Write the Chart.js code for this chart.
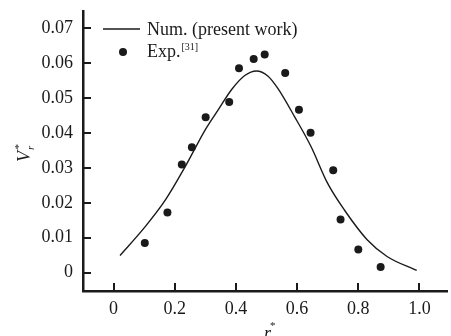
<!DOCTYPE html>
<html><head><meta charset="utf-8">
<script src="https://cdn.jsdelivr.net/npm/chart.js@4/dist/chart.umd.min.js"></script>
<style>html,body{margin:0;padding:0;background:#fff}#wrap{width:451px;height:336px}</style>
</head><body><div id="wrap"><canvas id="c" width="451" height="336"></canvas></div>
<script>
const numX = [0.021,0.10,0.17,0.235,0.30,0.343,0.386,0.429,0.467,0.505,0.537,0.591,0.645,0.699,0.754,0.829,0.894,0.991];
const numY = [0.0049,0.0128,0.0209,0.0305,0.041,0.0468,0.0525,0.0565,0.0578,0.0563,0.0528,0.0448,0.0362,0.0257,0.018,0.0094,0.0046,0.0006];
const expX = [0.102,0.176,0.223,0.256,0.301,0.378,0.41,0.458,0.494,0.561,0.606,0.644,0.718,0.742,0.800,0.873];
const expY = [0.0085,0.0172,0.031,0.0359,0.0445,0.0489,0.0586,0.0612,0.0625,0.0572,0.0467,0.0401,0.0293,0.0152,0.0066,0.0016];
const xTicks = [0,0.2,0.4,0.6,0.8,1.0];
const xTickLabels = ['0','0.2','0.4','0.6','0.8','1.0'];
const yTicks = [0,0.01,0.02,0.03,0.04,0.05,0.06,0.07];
const yTickLabels = ['0','0.01','0.02','0.03','0.04','0.05','0.06','0.07'];

const FONT = '"Liberation Serif","DejaVu Serif",serif';
const INK = '#1a1a1a';

const decor = {
  id:'decor',
  afterDraw(chart){
    const ctx = chart.ctx, xs = chart.scales.x, ys = chart.scales.y, a = chart.chartArea;
    ctx.save();
    ctx.strokeStyle = INK; ctx.lineWidth = 2;
    yTicks.forEach(v=>{const p=Math.round(ys.getPixelForValue(v));ctx.beginPath();ctx.moveTo(a.left,p);ctx.lineTo(a.left+8,p);ctx.stroke();});
    xTicks.forEach(v=>{const p=Math.round(xs.getPixelForValue(v));ctx.beginPath();ctx.moveTo(p,a.bottom);ctx.lineTo(p,a.bottom-8);ctx.stroke();});
    // legend
    ctx.fillStyle = INK; ctx.lineWidth = 1.4;
    ctx.beginPath(); ctx.moveTo(103,29); ctx.lineTo(140,29); ctx.stroke();
    ctx.font = '18px '+FONT; ctx.textBaseline='alphabetic'; ctx.textAlign='left';
    ctx.fillText('Num. (present work)',147,35);
    ctx.beginPath(); ctx.arc(123,52,4,0,Math.PI*2); ctx.fill();
    ctx.fillText('Exp.',147,57);
    const w = ctx.measureText('Exp.').width;
    ctx.font = '10px '+FONT; ctx.fillText('[31]',147+w+1,50);
    // y title
    ctx.save();
    ctx.translate(30,154); ctx.rotate(-Math.PI/2);
    ctx.font = 'italic 18px '+FONT; ctx.textAlign='left';
    ctx.fillText('V',-8,0);
    ctx.font = 'italic 11px '+FONT;
    ctx.fillText('r',4,4);
    ctx.fillText('*',4,-8);
    ctx.restore();
    // x title
    ctx.font = 'italic 18px '+FONT; ctx.textAlign='left';
    ctx.fillText('r',264,339);
    ctx.font = '11px '+FONT; ctx.fillText('*',270,329);
    ctx.restore();
  }
};

new Chart(document.getElementById('c'),{
  type:'scatter',
  data:{datasets:[
    {label:'Num. (present work)', data:numX.map((x,i)=>({x:x,y:numY[i]})), showLine:true, borderColor:INK, borderWidth:1.4, pointRadius:0, tension:0.3, cubicInterpolationMode:'monotone', fill:false},
    {label:'Exp.', data:expX.map((x,i)=>({x:x,y:expY[i]})), showLine:false, pointRadius:4, pointBackgroundColor:INK, pointBorderWidth:0, borderColor:INK}
  ]},
  options:{
    responsive:false, animation:false, devicePixelRatio:1,
    layout:{padding:{top:11,left:0,right:0,bottom:0}},
    plugins:{legend:{display:false},tooltip:{enabled:false}},
    scales:{
      x:{type:'linear',min:-0.1,max:1.09,
        afterBuildTicks(s){s.ticks=xTicks.map(v=>({value:v}));},
        afterFit(s){s.height=45;s.paddingLeft=0;s.paddingRight=0;},
        grid:{display:false,drawTicks:false},
        border:{display:true,width:2.5,color:INK},
        ticks:{padding:7,color:INK,font:{family:FONT,size:18},maxRotation:0,autoSkip:false,
          callback:(v)=>{const i=xTicks.findIndex(t=>Math.abs(t-v)<1e-9);return i>=0?xTickLabels[i]:'';}}
      },
      y:{type:'linear',min:-0.0053,max:0.075,
        afterBuildTicks(s){s.ticks=yTicks.map(v=>({value:v}));},
        afterFit(s){s.width=83;s.paddingTop=0;s.paddingBottom=0;},
        grid:{display:false,drawTicks:false},
        border:{display:true,width:2.5,color:INK},
        ticks:{padding:10,color:INK,font:{family:FONT,size:18},autoSkip:false,
          callback:(v)=>{const i=yTicks.findIndex(t=>Math.abs(t-v)<1e-9);return i>=0?yTickLabels[i]:'';}}
      }
    }
  },
  plugins:[decor]
});
</script></body></html>
